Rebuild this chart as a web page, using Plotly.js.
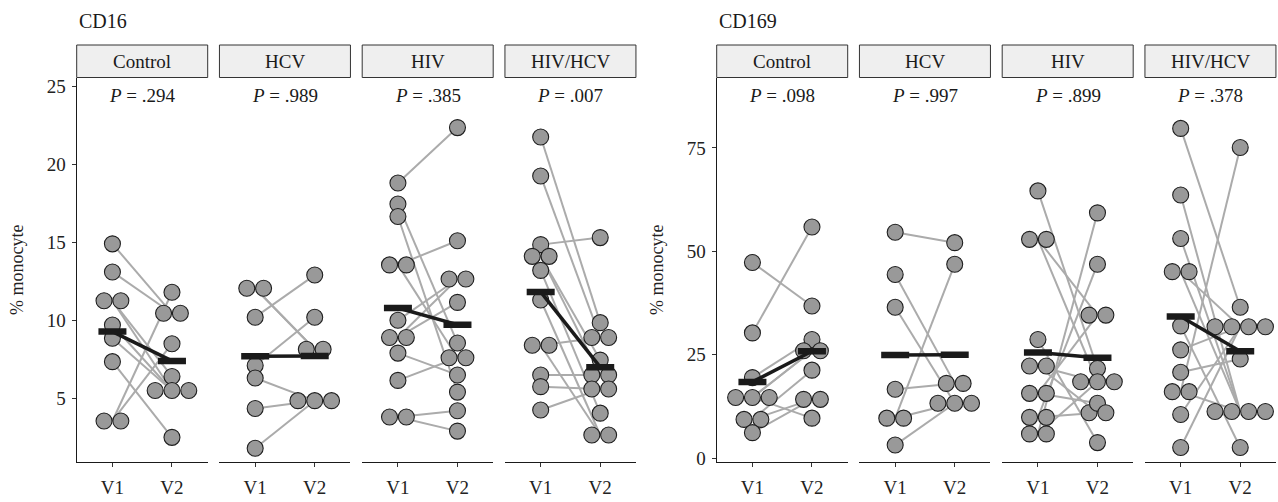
<!DOCTYPE html>
<html><head><meta charset="utf-8">
<script src="https://cdn.plot.ly/plotly-3.0.1.min.js"></script>
<style>html,body{margin:0;padding:0;background:#fff}#chart{width:1278px;height:502px}</style>
</head><body><div id="chart"></div>
<script>
// ---------- data ----------
const groups = ['Control', 'HCV', 'HIV', 'HIV/HCV'];
const visits = ['V1', 'V2'];
const markers = ['CD16', 'CD169'];

// CD16 (% monocyte), paired V1 -> V2 per subject
const cd16_control_v1 = [14.9, 13.1, 11.25, 11.25, 9.7, 8.85, 7.35, 3.55, 3.55];
const cd16_control_v2 = [10.45, 10.45, 6.4, 5.5, 5.5, 5.5, 2.5, 11.8, 8.5];
const cd16_hcv_v1 = [12.05, 12.05, 10.2, 7.1, 6.3, 4.35, 1.8];
const cd16_hcv_v2 = [8.15, 8.15, 12.9, 10.2, 4.85, 4.85, 4.85];
const cd16_hiv_v1 = [18.8, 17.45, 16.65, 13.55, 13.55, 10.0, 8.9, 8.9, 7.9, 6.15, 3.8, 3.8];
const cd16_hiv_v2 = [22.35, 8.55, 5.4, 15.1, 7.6, 12.65, 12.65, 11.15, 6.5, 7.6, 4.2, 2.9];
const cd16_hivhcv_v1 = [21.75, 19.25, 14.85, 14.1, 14.1, 13.2, 11.3, 8.4, 8.4, 6.5, 5.75, 4.25];
const cd16_hivhcv_v2 = [9.85, 8.9, 15.3, 7.45, 6.5, 4.05, 2.65, 8.9, 2.65, 6.5, 5.6, 5.6];

// CD169 (% monocyte)
const cd169_control_v1 = [47.3, 30.3, 19.5, 14.7, 14.7, 14.7, 9.4, 9.4, 6.2];
const cd169_control_v2 = [36.8, 55.9, 28.7, 26.0, 26.0, 9.7, 21.3, 14.25, 14.25];
const cd169_hcv_v1 = [54.6, 44.4, 36.5, 16.7, 9.7, 9.7, 3.2];
const cd169_hcv_v2 = [52.1, 18.1, 13.3, 18.1, 46.9, 13.3, 13.3];
const cd169_hiv_v1 = [64.6, 52.9, 52.9, 28.7, 22.3, 22.3, 15.7, 15.7, 9.9, 9.9, 5.9, 5.9];
const cd169_hiv_v2 = [21.7, 34.6, 18.5, 3.8, 18.5, 11.0, 34.6, 13.3, 46.9, 11.0, 59.3, 18.5];
const cd169_hivhcv_v1 = [79.7, 63.6, 53.1, 45.1, 45.1, 32.0, 26.2, 20.8, 16.1, 16.1, 10.6, 2.6];
const cd169_hivhcv_v2 = [36.5, 11.3, 11.3, 31.8, 11.3, 2.6, 31.8, 24.0, 75.1, 11.3, 31.8, 31.8];

const cd16_pvalues = ['.294', '.989', '.385', '.007'];
const cd169_pvalues = ['.098', '.997', '.899', '.378'];
const cd16_ticks = [5, 10, 15, 20, 25];
const cd169_ticks = [0, 25, 50, 75];

// ---------- layout helpers ----------
const W = 1278, H = 502;
const px = x => x / W;
const py = y => 1 - y / H;
const FONT = 'Liberation Serif, Times New Roman, serif';
const INK = '#1a1a1a';
const panelW = 131, step = 142.75;
const chartStarts = [76.7, 716.7];
const panelTop = 77.5, panelBot = 462, stripTop = 45;
const xRange = [0.4, 2.6];
const dotSpacing = 16.8 / (panelW / (xRange[1] - xRange[0]));

function swarm(vals) {
  const off = new Array(vals.length).fill(0);
  const rows = {};
  vals.forEach((v, i) => { const k = v.toFixed(4); (rows[k] = rows[k] || []).push(i); });
  Object.values(rows).forEach(idx => {
    const n = idx.length;
    idx.forEach((i, j) => { off[i] = (j - (n - 1) / 2) * dotSpacing; });
  });
  return off;
}
const mean = a => a.reduce((s, v) => s + v, 0) / a.length;

const panelsData = [
  [[cd16_control_v1, cd16_control_v2], [cd16_hcv_v1, cd16_hcv_v2], [cd16_hiv_v1, cd16_hiv_v2], [cd16_hivhcv_v1, cd16_hivhcv_v2]],
  [[cd169_control_v1, cd169_control_v2], [cd169_hcv_v1, cd169_hcv_v2], [cd169_hiv_v1, cd169_hiv_v2], [cd169_hivhcv_v1, cd169_hivhcv_v2]]
];
const pvals = [cd16_pvalues, cd169_pvalues];
const yTicks = [cd16_ticks, cd169_ticks];
const yRanges = [[0.92, 25.56], [-0.89, 92.0]];

const traces = [], shapes = [], annotations = [];
const layout = {
  width: W, height: H, margin: {l: 0, r: 0, t: 0, b: 0},
  paper_bgcolor: '#fff', plot_bgcolor: '#fff', showlegend: false,
  font: {family: FONT, color: INK, size: 19}
};

for (let c = 0; c < 2; c++) {
  const yid = c === 0 ? 'y' : 'y2';
  const yKey = c === 0 ? 'yaxis' : 'yaxis2';
  layout[yKey] = {
    domain: [py(panelBot), py(panelTop)], range: yRanges[c],
    anchor: 'x' + (c * 4 + 1), tickvals: yTicks[c],
    showline: true, linecolor: INK, linewidth: 1.2, ticks: 'outside', ticklen: 4,
    tickcolor: '#333', showgrid: false, zeroline: false, ticklabelstandoff: 2,
    tickfont: {family: FONT, size: 19, color: '#222'},
    title: {text: '% monocyte', font: {family: FONT, size: 18, color: '#222'}, standoff: 18}
  };
  annotations.push({
    xref: 'paper', yref: 'paper', x: px(chartStarts[c]), y: py(21.5),
    xanchor: 'left', yanchor: 'middle', showarrow: false,
    text: markers[c], font: {family: FONT, size: 20, color: INK}
  });
  for (let g = 0; g < 4; g++) {
    const k = c * 4 + g + 1;
    const xid = 'x' + (k === 1 ? '' : k);
    const xKey = 'xaxis' + (k === 1 ? '' : k);
    const left = chartStarts[c] + g * step;
    layout[xKey] = {
      domain: [px(left), px(left + panelW)], range: xRange, anchor: yid,
      tickvals: [1, 2], ticktext: visits,
      showline: true, linecolor: INK, linewidth: 1.2, ticks: 'outside', ticklen: 4,
      tickcolor: '#333', showgrid: false, zeroline: false, ticklabelstandoff: 4,
      tickfont: {family: FONT, size: 19, color: '#222'}
    };
    const [v1, v2] = panelsData[c][g];
    // paired lines
    const lx = [], ly = [];
    v1.forEach((v, i) => { lx.push(1, 2, null); ly.push(v, v2[i], null); });
    traces.push({type: 'scatter', mode: 'lines', x: lx, y: ly, xaxis: xid, yaxis: yid,
      line: {color: '#ababab', width: 2}, hoverinfo: 'skip'});
    // points
    const o1 = swarm(v1), o2 = swarm(v2);
    traces.push({type: 'scatter', mode: 'markers',
      x: v1.map((v, i) => 1 + o1[i]).concat(v2.map((v, i) => 2 + o2[i])),
      y: v1.concat(v2), xaxis: xid, yaxis: yid,
      marker: {size: 16, color: '#999999', line: {color: '#1f1f1f', width: 1.1}}});
    // means
    const m = [mean(v1), mean(v2)];
    traces.push({type: 'scatter', mode: 'lines', x: [1, 2], y: m, xaxis: xid, yaxis: yid,
      line: {color: INK, width: 3.5}});
    traces.push({type: 'scatter', mode: 'markers', x: [1, 2], y: m, xaxis: xid, yaxis: yid,
      marker: {symbol: 'line-ew', size: 20, line: {color: INK, width: 6.5}}});
    // strip
    shapes.push({type: 'rect', xref: 'paper', yref: 'paper',
      x0: px(left), x1: px(left + panelW), y0: py(panelTop), y1: py(stripTop),
      fillcolor: '#efefef', line: {color: '#333', width: 1}, layer: 'above'});
    annotations.push({xref: 'paper', yref: 'paper', x: px(left + panelW / 2), y: py((panelTop + stripTop) / 2),
      xanchor: 'center', yanchor: 'middle', showarrow: false, text: groups[g],
      font: {family: FONT, size: 19, color: INK}});
    annotations.push({xref: 'paper', yref: 'paper', x: px(left + panelW / 2), y: py(95),
      xanchor: 'center', yanchor: 'middle', showarrow: false,
      text: '<i>P</i> = ' + pvals[c][g], font: {family: FONT, size: 19, color: INK}});
  }
}
layout.shapes = shapes;
layout.annotations = annotations;
Plotly.newPlot('chart', traces, layout, {displayModeBar: false, staticPlot: true});
</script>
</body></html>
